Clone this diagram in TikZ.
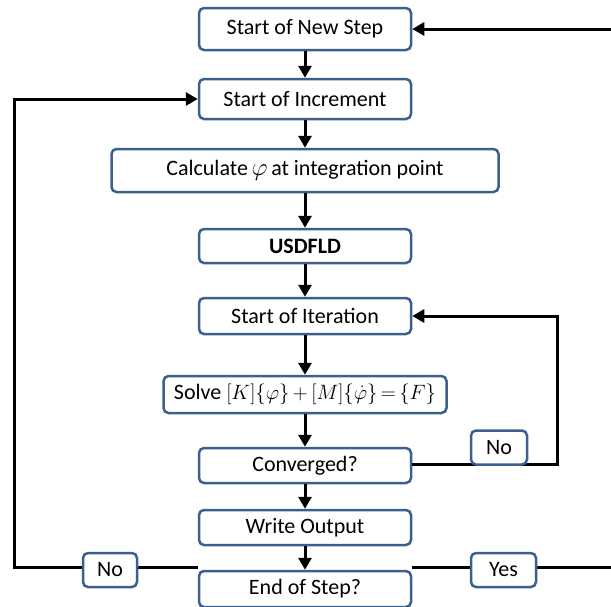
\documentclass[tikz,border=0pt]{standalone}
\usepackage{fontspec}
\setmainfont{Carlito}
\usetikzlibrary{arrows.meta}
\definecolor{boxblue}{HTML}{3C5F8E}
\begin{document}
\begin{tikzpicture}[x=1pt,y=-1pt,
  box/.style={draw=boxblue,line width=2.5pt,rounded corners=5pt,fill=white,inner sep=0pt,font=\fontsize{22}{24}\selectfont},
  lab/.style={draw=boxblue,line width=2.5pt,rounded corners=5pt,fill=white,inner sep=0pt,minimum height=34pt,font=\fontsize{22}{24}\selectfont},
  conn/.style={line width=3pt,draw=black},
  arr/.style={conn,-{Triangle[length=12pt,width=13pt]}}]
\useasboundingbox (0,0) rectangle (611,606);
\node[box,minimum width=212pt,minimum height=42pt] (nstep) at (305,29) {Start of New Step};
\node[box,minimum width=212pt,minimum height=40pt] (inc) at (305,99) {Start of Increment};
\node[box,minimum width=387pt,minimum height=43pt] (calc) at (305,170.5) {Calculate\,{\fontsize{30}{30}\selectfont$\varphi$}\,at integration point};
\node[box,minimum width=212pt,minimum height=34pt] (usd) at (305,246) {\textbf{USDFLD}};
\node[box,minimum width=212pt,minimum height=36pt] (iter) at (305,316) {Start of Iteration};
\node[box,minimum width=283pt,minimum height=37pt] (solve) at (305,394.5) {Solve\ {\fontsize{20}{20}\selectfont$[K]\{\varphi\}\,{+}\,[M]\{\dot{\varphi}\}\,{=}\,\{F\}$}};
\node[box,minimum width=212pt,minimum height=35pt] (conv) at (305,465.5) {Converged?};
\node[box,minimum width=212pt,minimum height=35pt] (wout) at (305,527.5) {Write Output};
\node[box,minimum width=212pt,minimum height=36pt] (eos) at (305,589) {End of Step?};
\coordinate (rtop) at (611,29);
\coordinate (rbot) at (611,567);
\coordinate (lc) at (14,567);
\coordinate (rc) at (557,464);
% main flow
\draw[arr] (nstep) -- (inc);
\draw[arr] (inc) -- (calc);
\draw[arr] (calc) -- (usd);
\draw[arr] (usd) -- (iter);
\draw[arr] (iter) -- (solve);
\draw[arr] (solve) -- (conv);
\draw[arr] (conv) -- (wout);
\draw[arr] (wout) -- (eos);
% loops
\draw[arr] (conv.east |- rc) -- (rc) |- (iter.east);
\draw[arr] (eos.west |- lc) -- (lc) |- (inc.west);
\draw[conn] (eos.east |- rbot) -- (rbot);
\draw[arr] (rtop) -- (nstep.east);
% labels
\node[lab,minimum width=56pt] (no1) at (499,447.5) {No};
\node[lab,minimum width=54pt] (no2) at (110,570) {No};
\node[lab,minimum width=65pt] (yes) at (503.5,570) {Yes};
\end{tikzpicture}
\end{document}
